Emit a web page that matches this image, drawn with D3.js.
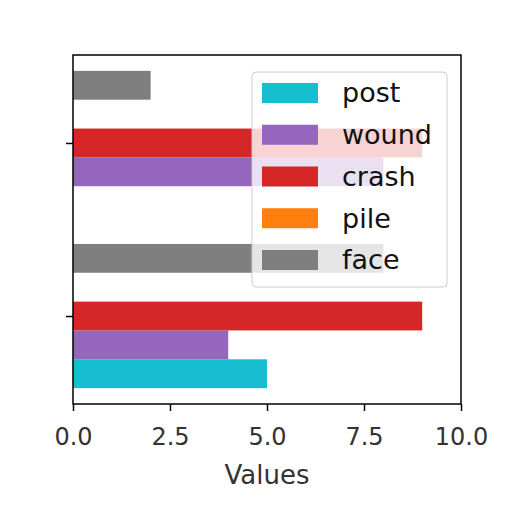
<!DOCTYPE html>
<html>
<head>
<meta charset="utf-8">
<script src="https://cdn.jsdelivr.net/npm/d3@7"></script>
<style>
  body { margin: 0; background: #fff; }
  svg { font-family: "DejaVu Sans", sans-serif; }
</style>
</head>
<body>
<svg id="chart" width="512" height="512"></svg>
<script>
const groups = [0, 1];
const seriesNames = ['post', 'wound', 'crash', 'pile', 'face'];
const seriesColors = ['#17becf', '#9467bd', '#d62728', '#ff7f0e', '#7f7f7f'];
const post = [5, 0];
const wound = [4, 8];
const crash = [9, 9];
const pile = [0, 0];
const face = [8, 2];
const xTicks = [0, 2.5, 5, 7.5, 10];

const seriesValues = [post, wound, crash, pile, face];

const svg = d3.select('#chart');
const plotLeft = 73, plotRight = 461, plotTop = 55, plotBottom = 404;
const barH = 1 / 6;
const lo = -2.5 * barH, hi = 1 + 2.5 * barH;
const pad = (hi - lo) * 0.05;

const x = d3.scaleLinear().domain([0, 10]).range([plotLeft, plotRight]);
const y = d3.scaleLinear().domain([lo - pad, hi + pad]).range([plotBottom, plotTop]);

// bars
const rows = [];
seriesValues.forEach((vals, i) => {
  vals.forEach((v, g) => {
    rows.push({ g: groups[g], i, v });
  });
});

svg.append('g')
  .selectAll('rect')
  .data(rows)
  .enter()
  .append('rect')
  .attr('x', x(0))
  .attr('y', d => y(d.g + (d.i - 2) * barH + barH / 2))
  .attr('width', d => x(d.v) - x(0))
  .attr('height', d => y(0) - y(barH))
  .attr('fill', d => seriesColors[d.i]);

// axes
const xAxis = svg.append('g')
  .attr('transform', `translate(0, ${plotBottom})`)
  .call(d3.axisBottom(x).tickValues(xTicks).tickFormat(d3.format('.1f')).tickSize(7).tickPadding(17));
xAxis.select('.domain').remove();
xAxis.selectAll('text').attr('font-size', 24).attr('fill', '#333').attr('font-family', 'DejaVu Sans');
xAxis.selectAll('line').attr('stroke-width', 1.5);

const yAxis = svg.append('g')
  .attr('transform', `translate(${plotLeft}, 0)`)
  .call(d3.axisLeft(y).tickValues(groups).tickFormat('').tickSize(7));
yAxis.select('.domain').remove();
yAxis.selectAll('line').attr('stroke-width', 1.5);

svg.append('rect')
  .attr('x', plotLeft).attr('y', plotTop)
  .attr('width', plotRight - plotLeft).attr('height', plotBottom - plotTop)
  .attr('fill', 'none').attr('stroke', '#000').attr('stroke-width', 1.5);

svg.append('text')
  .attr('x', (plotLeft + plotRight) / 2).attr('y', 484)
  .attr('text-anchor', 'middle')
  .attr('font-size', 26)
  .attr('fill', '#333')
  .text('Values');

// legend
const lg = svg.append('g');
lg.append('rect')
  .attr('x', 252).attr('y', 72).attr('width', 195).attr('height', 215)
  .attr('rx', 4)
  .attr('fill', '#fff').attr('fill-opacity', 0.8)
  .attr('stroke', '#ccc').attr('stroke-width', 1);

const items = lg.selectAll('g.item')
  .data(seriesNames)
  .enter()
  .append('g')
  .attr('transform', (d, i) => `translate(0, ${93 + i * 41.75})`);
items.append('rect')
  .attr('x', 262).attr('y', -10).attr('width', 56).attr('height', 20)
  .attr('fill', (d, i) => seriesColors[i]);
items.append('text')
  .attr('x', 342).attr('y', 0)
  .attr('dy', '0.35em')
  .attr('font-size', 27)
  .attr('fill', '#111')
  .text(d => d);
</script>
</body>
</html>
